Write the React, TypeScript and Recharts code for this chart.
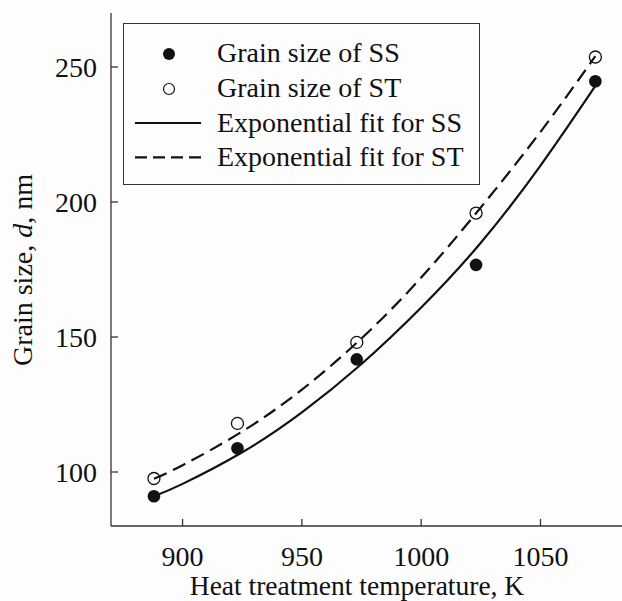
import React from 'react';
import { ComposedChart, Line, Scatter, XAxis, YAxis, Legend } from 'recharts';

const temperatures = [888, 923, 973, 1023, 1073];
const grainSS = [91, 108.8, 141.7, 176.7, 244.7];
const grainST = [97.6, 118, 148, 195.9, 253.7];
const fitTemperatures = [888, 900, 925, 950, 975, 1000, 1025, 1050, 1073];
const fitSS = [91, 95.6, 107.3, 122.1, 140, 160.9, 184.9, 213.5, 243];
const fitST = [97.5, 102.5, 115, 130.5, 149.5, 172, 198, 226, 254];
const xTicks = [900, 950, 1000, 1050];
const yTicks = [100, 150, 200, 250];
const legendLabels = [
  'Grain size of SS',
  'Grain size of ST',
  'Exponential fit for SS',
  'Exponential fit for ST',
];

const ssPoints = temperatures.map((t, i) => ({ t, d: grainSS[i] }));
const stPoints = temperatures.map((t, i) => ({ t, d: grainST[i] }));
const ssFit = fitTemperatures.map((t, i) => ({ t, d: fitSS[i] }));
const stFit = fitTemperatures.map((t, i) => ({ t, d: fitST[i] }));

const FONT = '"Liberation Serif", "Times New Roman", serif';
const INK = '#111';
const FRAME = '#333';

const BottomTick = (props: any) => {
  const { x, y, payload } = props;
  return (
    <g>
      <line x1={x} y1={y} x2={x} y2={y - 7} stroke={FRAME} strokeWidth={1.3} />
      <text x={x} y={y + 40} textAnchor="middle" fontFamily={FONT} fontSize={28} fill={INK}>
        {payload.value}
      </text>
    </g>
  );
};

const TopTick = (props: any) => {
  const { x, y } = props;
  return <line x1={x} y1={y} x2={x} y2={y + 7} stroke={FRAME} strokeWidth={1.3} />;
};

const LeftTick = (props: any) => {
  const { x, y, payload } = props;
  return (
    <g>
      <line x1={x} y1={y} x2={x + 7} y2={y} stroke={FRAME} strokeWidth={1.3} />
      <text x={x - 14} y={y + 10} textAnchor="end" fontFamily={FONT} fontSize={28} fill={INK}>
        {payload.value}
      </text>
    </g>
  );
};

const RightTick = (props: any) => {
  const { x, y } = props;
  return <line x1={x} y1={y} x2={x - 7} y2={y} stroke={FRAME} strokeWidth={1.3} />;
};

const FilledDot = (props: any) => {
  const { cx, cy } = props;
  return <circle cx={cx} cy={cy} r={6.3} fill={INK} />;
};

const OpenDot = (props: any) => {
  const { cx, cy } = props;
  return <circle cx={cx} cy={cy} r={6} fill="none" stroke={INK} strokeWidth={1.3} />;
};

const LegendBox = () => {
  const markY = [30, 65, 99, 133.4];
  const textY = [37.7, 72.7, 107.7, 142.4];
  return (
    <div
      style={{
        width: 357,
        height: 162,
        border: `1.3px solid ${FRAME}`,
        boxSizing: 'border-box',
        background: 'transparent',
      }}
    >
      <svg width={355} height={160} style={{ display: 'block', overflow: 'visible' }}>
        <circle cx={45} cy={markY[0]} r={6} fill={INK} />
        <circle cx={45} cy={markY[1]} r={5.5} fill="none" stroke={INK} strokeWidth={1.2} />
        <line x1={11} y1={markY[2]} x2={77} y2={markY[2]} stroke={INK} strokeWidth={2.2} />
        <line x1={11} y1={markY[3]} x2={77} y2={markY[3]} stroke={INK} strokeWidth={2.2} strokeDasharray="12 6" />
        {legendLabels.map((lab, i) => (
          <text key={lab} x={93} y={textY[i]} fontFamily={FONT} fontSize={28} fill={INK}>
            {lab}
          </text>
        ))}
      </svg>
    </div>
  );
};

const YLabel = () => {
  return (
    <text
      x={32}
      y={270}
      transform="rotate(-90 32 270)"
      textAnchor="middle"
      fontFamily={FONT}
      fontSize={28}
      fill={INK}
    >
      Grain size, <tspan fontStyle="italic">d</tspan>, nm
    </text>
  );
};

const XLabel = () => {
  return (
    <text x={357} y={594.5} textAnchor="middle" fontFamily={FONT} fontSize={27.5} fill={INK}>
      Heat treatment temperature, K
    </text>
  );
};

export default function App() {
  return (
    <div
      style={{
        position: 'absolute',
        left: 0,
        top: 0,
        width: 622,
        height: 601,
        overflow: 'hidden',
        background: '#fdfdfd',
      }}
    >
      <ComposedChart
        width={627}
        height={601}
        margin={{ top: 13, right: 3, bottom: 0, left: 0 }}
      >
        <XAxis
          xAxisId="bottom"
          dataKey="t"
          type="number"
          domain={[870, 1085]}
          ticks={xTicks}
          allowDataOverflow
          orientation="bottom"
          height={75}
          axisLine={{ stroke: FRAME, strokeWidth: 1.3 }}
          tickLine={false}
          tickSize={0}
          tickMargin={0}
          tick={<BottomTick />}
          label={<XLabel />}
        />
        <XAxis
          xAxisId="top"
          dataKey="t"
          type="number"
          domain={[870, 1085]}
          ticks={xTicks}
          allowDataOverflow
          orientation="top"
          height={0}
          axisLine={{ stroke: FRAME, strokeWidth: 1.3 }}
          tickLine={false}
          tickSize={0}
          tickMargin={0}
          tick={<TopTick />}
        />
        <YAxis
          yAxisId="left"
          type="number"
          domain={[80, 270]}
          ticks={yTicks}
          allowDataOverflow
          orientation="left"
          width={111}
          axisLine={{ stroke: FRAME, strokeWidth: 1.3 }}
          tickLine={false}
          tickSize={0}
          tickMargin={0}
          tick={<LeftTick />}
          label={<YLabel />}
        />
        <YAxis
          yAxisId="right"
          type="number"
          domain={[80, 270]}
          ticks={yTicks}
          allowDataOverflow
          orientation="right"
          width={0}
          axisLine={{ stroke: FRAME, strokeWidth: 1.3 }}
          tickLine={false}
          tickSize={0}
          tickMargin={0}
          tick={<RightTick />}
        />
        <Legend
          layout="vertical"
          align="center"
          verticalAlign="middle"
          wrapperStyle={{ position: 'absolute', left: 123, top: 23, width: 357, height: 162 }}
          content={<LegendBox />}
        />
        <Line
          xAxisId="bottom"
          yAxisId="left"
          data={ssFit}
          dataKey="d"
          type="natural"
          stroke={INK}
          strokeWidth={2.2}
          dot={false}
          activeDot={false}
          isAnimationActive={false}
        />
        <Line
          xAxisId="bottom"
          yAxisId="left"
          data={stFit}
          dataKey="d"
          type="natural"
          stroke={INK}
          strokeWidth={2.2}
          strokeDasharray="14 7"
          dot={false}
          activeDot={false}
          isAnimationActive={false}
        />
        <Scatter
          xAxisId="bottom"
          yAxisId="left"
          data={ssPoints}
          dataKey="d"
          shape={<FilledDot />}
          isAnimationActive={false}
        />
        <Scatter
          xAxisId="bottom"
          yAxisId="left"
          data={stPoints}
          dataKey="d"
          shape={<OpenDot />}
          isAnimationActive={false}
        />
      </ComposedChart>
    </div>
  );
}
